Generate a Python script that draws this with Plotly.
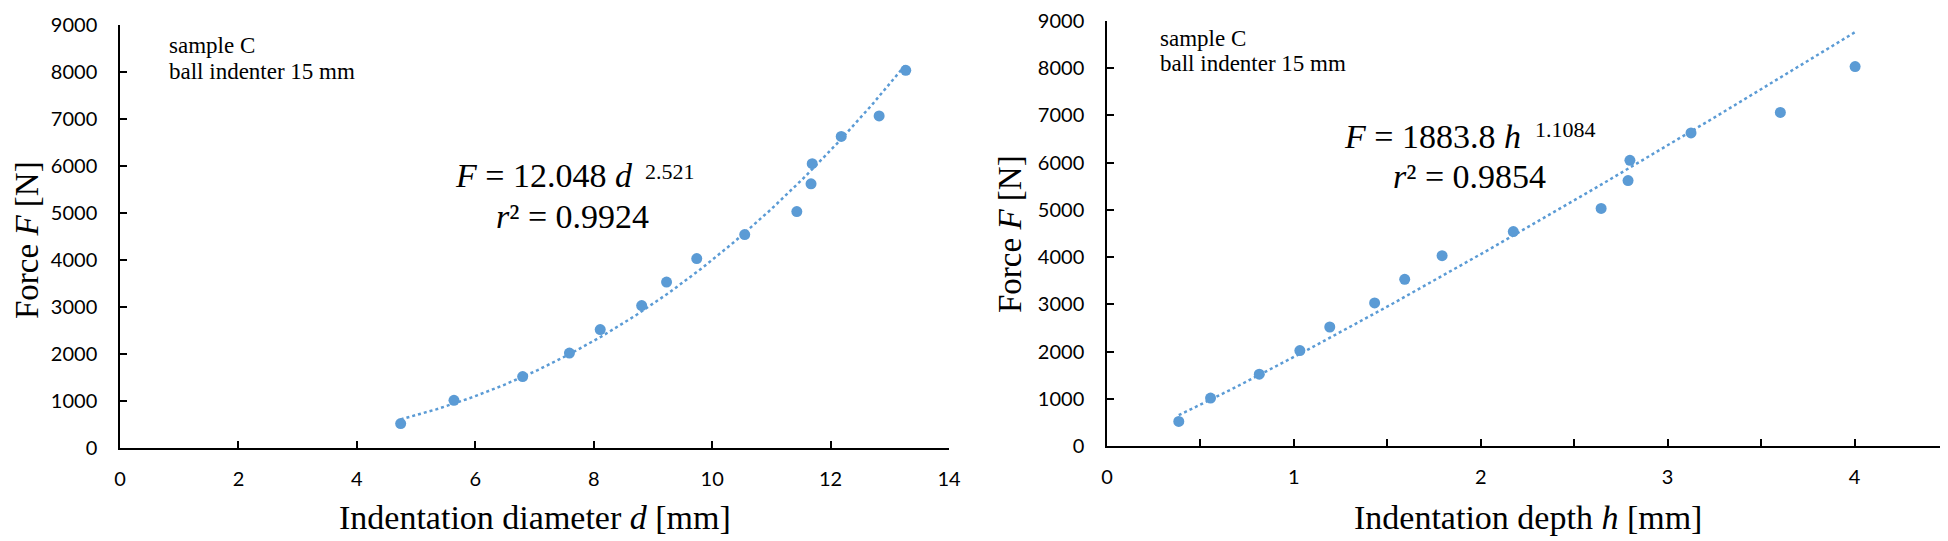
import numpy as np
import plotly.graph_objects as go

# ---------------- data ----------------
force_N = [520, 1015, 1520, 2020, 2520, 3030, 3530, 4030, 4540, 5030, 5620, 6050, 6630, 7065, 8035]
diameter_mm = [4.74, 5.64, 6.80, 7.59, 8.11, 8.81, 9.23, 9.74, 10.55, 11.43, 11.67, 11.69, 12.18, 12.82, 13.27]
depth_mm = [0.384, 0.554, 0.815, 1.032, 1.192, 1.432, 1.593, 1.793, 2.174, 2.644, 2.788, 2.798, 3.125, 3.603, 4.003]

# power-law trendline coefficients shown on the chart
fit_d_coef, fit_d_exp, fit_d_r2 = 12.048, 2.521, 0.9924
fit_h_coef, fit_h_exp, fit_h_r2 = 1883.8, 1.1084, 0.9854

x_ticks_d = [0, 2, 4, 6, 8, 10, 12, 14]
x_ticks_h = [0, 1, 2, 3, 4]
x_minor_h = [0.5, 1.5, 2.5, 3.5]
y_ticks = [0, 1000, 2000, 3000, 4000, 5000, 6000, 7000, 8000, 9000]

sample_lines = ["sample C", "ball indenter 15 mm"]

# ---------------- geometry helpers ----------------
# the page body has an 8px margin, so the figure is drawn 8px smaller and
# every target pixel position (measured on the 1948x541 picture) is shifted by it
OFF = 8
W, H = 1948 - OFF, 541 - OFF
def px(x):
    return (x - OFF) / W
def py(y):
    return 1 - (y - OFF) / H

BLUE = "#5B9BD5"
SERIF = "Liberation Serif, Times New Roman, serif"
TICKFONT = dict(family="Lato, Open Sans, sans-serif", size=20, color="#000000")

fig = go.Figure()

# trendlines
d_grid = np.linspace(min(diameter_mm), max(diameter_mm), 200)
h_grid = np.linspace(min(depth_mm), max(depth_mm), 200)
fig.add_trace(go.Scatter(x=d_grid, y=fit_d_coef * d_grid ** fit_d_exp, mode="lines",
                         line=dict(color=BLUE, width=2.5, dash="3px,3px"),
                         xaxis="x", yaxis="y", hoverinfo="skip", showlegend=False))
fig.add_trace(go.Scatter(x=h_grid, y=fit_h_coef * h_grid ** fit_h_exp, mode="lines",
                         line=dict(color=BLUE, width=2.5, dash="3px,3px"),
                         xaxis="x2", yaxis="y2", hoverinfo="skip", showlegend=False))
# data points
fig.add_trace(go.Scatter(x=diameter_mm, y=force_N, mode="markers",
                         marker=dict(color=BLUE, size=11), xaxis="x", yaxis="y", showlegend=False))
fig.add_trace(go.Scatter(x=depth_mm, y=force_N, mode="markers",
                         marker=dict(color=BLUE, size=11), xaxis="x2", yaxis="y2", showlegend=False))

axis_common = dict(showline=True, linecolor="#000000", linewidth=1.5, showgrid=False,
                   zeroline=False, ticks="inside", ticklen=7, tickwidth=1.5,
                   tickcolor="#000000", tickfont=TICKFONT, automargin=False,
                   ticklabeloverflow="allow")

L = dict(x0=120, x1=949, y0=25, y1=448)
R = dict(x0=1107, x1=1948, y0=21, y1=446)

fig.update_layout(
    width=W, height=H, margin=dict(l=0, r=0, t=0, b=0, pad=0, autoexpand=False),
    paper_bgcolor="white", plot_bgcolor="white", showlegend=False,
    xaxis=dict(domain=[px(L["x0"]), px(L["x1"])], anchor="y", range=[0, 14],
               tickvals=x_ticks_d, ticklabelstandoff=12, **axis_common),
    yaxis=dict(domain=[py(L["y1"]), py(L["y0"])], anchor="x", range=[0, 9000],
               tickvals=y_ticks, ticklabelstandoff=17, **axis_common),
    xaxis2=dict(domain=[px(R["x0"]), 1.0], anchor="y2", range=[0, 4.5],
                tickvals=x_ticks_h, ticklabelstandoff=12,
                minor=dict(tickvals=x_minor_h, ticks="inside", ticklen=7, tickwidth=1.5,
                           tickcolor="#000000"),
                **axis_common),
    yaxis2=dict(domain=[py(R["y1"]), py(R["y0"])], anchor="x2", range=[0, 9000],
                tickvals=y_ticks, ticklabelstandoff=17, **axis_common),
)

ann = []
def add(text, x, y, size, xanchor="center", yanchor="middle", angle=0, family=SERIF):
    ann.append(dict(text=text, x=px(x), y=py(y), xref="paper", yref="paper",
                    xanchor=xanchor, yanchor=yanchor, showarrow=False, textangle=angle,
                    borderpad=0, font=dict(family=family, size=size, color="#000000")))

# axis titles
add("Indentation diameter <i>d</i> [mm]", (L["x0"] + L["x1"]) / 2, 529 - 0.34 * 34, 34)
add("Indentation depth <i>h</i> [mm]", (R["x0"] + R["x1"]) / 2, 529 - 0.34 * 34, 34)
add("Force <i>F</i> [N]", 27, 240, 33, angle=-90)
add("Force <i>F</i> [N]", 1010, 234, 33, angle=-90)

# sample labels
for i, line in enumerate(sample_lines):
    add(line, 168, 53.5 + 25.5 * i - 0.34 * 23, 23, xanchor="left")
    add(line, 1159, 46 + 25.5 * i - 0.34 * 23, 23, xanchor="left")

# equations (left)
add("<i>F</i> = %.3f <i>d</i>" % fit_d_coef, 634, 187 - 0.34 * 34, 34, xanchor="right")
add("%.3f" % fit_d_exp, 644, 179 - 0.34 * 22, 22, xanchor="left")
add("<i>r</i>² = %.4f" % fit_d_r2, 572, 228 - 0.34 * 34, 34)
# equations (right)
add("<i>F</i> = %.1f <i>h</i>" % fit_h_coef, 1522, 148 - 0.34 * 34, 34, xanchor="right")
add("%.4f" % fit_h_exp, 1534, 137 - 0.34 * 22, 22, xanchor="left")
add("<i>r</i>² = %.4f" % fit_h_r2, 1469, 188 - 0.34 * 34, 34)

fig.update_layout(annotations=ann)
fig.write_html("out.html")
